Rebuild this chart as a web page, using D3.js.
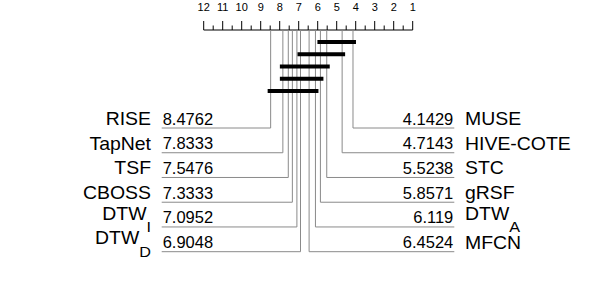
<!DOCTYPE html>
<html><head><meta charset="utf-8">
<script src="https://cdn.jsdelivr.net/npm/d3@7"></script>
<style>body{margin:0;background:#fff}svg{display:block}text{font-family:"Liberation Sans",Arial,sans-serif}</style>
</head><body><svg id="c" width="598" height="283"></svg>
<script>
const leftNames = [["RISE",""],["TapNet",""],["TSF",""],["CBOSS",""],["DTW","I"],["DTW","D"]];
const leftRanks = [8.4762, 7.8333, 7.5476, 7.3333, 7.0952, 6.9048];
const rightNames = [["MUSE",""],["HIVE-COTE",""],["STC",""],["gRSF",""],["DTW","A"],["MFCN",""]];
const rightRanks = [4.1429, 4.7143, 5.5238, 5.8571, 6.119, 6.4524];
const rightLabels = ["4.1429","4.7143","5.5238","5.8571","6.119","6.4524"];
const leftLabels = ["8.4762","7.8333","7.5476","7.3333","7.0952","6.9048"];
const tickLabels = [12,11,10,9,8,7,6,5,4,3,2,1];
const cliques = [[5.8571,4.1429],[6.9048,4.7143],[7.8333,5.5238],[7.8333,5.8571],[8.4762,6.119]];

const svg = d3.select("#c");
const x = d3.scaleLinear().domain([12,1]).range([203.7,412.7]);
const axisY = 30;
const rowY = d3.scaleLinear().domain([0,5]).range([128,251.7]);
const barY = d3.scaleLinear().domain([0,4]).range([42,91]);
const gray = "#8a8a8a";

// axis
svg.append("line").attr("x1",x(12)).attr("x2",x(1)).attr("y1",axisY).attr("y2",axisY)
  .attr("stroke","#000").attr("stroke-width",1);
const halfTicks = d3.range(12, 0.99, -0.5);
svg.selectAll(".tk").data(halfTicks).join("line")
  .attr("x1",d=>x(d)).attr("x2",d=>x(d))
  .attr("y1",d=>Number.isInteger(d)?axisY-9:axisY-4.5).attr("y2",axisY)
  .attr("stroke","#000").attr("stroke-width",1);
svg.selectAll(".tl").data(tickLabels).join("text")
  .attr("x",d=>x(d)).attr("y",10.5).attr("text-anchor","middle")
  .attr("font-size",11).text(d=>d);

// connector lines
const g = svg.append("g").attr("fill","none").attr("stroke",gray).attr("stroke-width",1);
leftRanks.forEach((r,i)=>{
  g.append("path").attr("d",`M${x(r)},${axisY}V${rowY(i)}H161.7`);
});
rightRanks.forEach((r,i)=>{
  g.append("path").attr("d",`M${x(r)},${axisY}V${rowY(i)}H454.3`);
});

// cliques
svg.selectAll(".cl").data(cliques).join("line")
  .attr("x1",d=>x(d[0])-3).attr("x2",d=>x(d[1])+3)
  .attr("y1",(d,i)=>barY(i)).attr("y2",(d,i)=>barY(i))
  .attr("stroke","#000").attr("stroke-width",4);

function name(px, ly, d, anchor){
  const base = d[1] ? ly-7.4 : ly-3;
  const t = svg.append("g").attr("transform",`translate(${px},${base}) scale(1.08,1)`)
    .append("text").attr("text-anchor",anchor).attr("font-size",18);
  t.append("tspan").text(d[0]);
  if(d[1]) t.append("tspan").attr("font-size",15).attr("dy",12.4).text(d[1]);
}
leftNames.forEach((d,i)=>{
  name(151, rowY(i), d, "end");
  svg.append("text").attr("x",162.7).attr("y",rowY(i)-3.5).attr("font-size",16.5).text(leftLabels[i]);
});
rightNames.forEach((d,i)=>{
  name(465, rowY(i), d, "start");
  svg.append("text").attr("x",453.3).attr("y",rowY(i)-3.5).attr("text-anchor","end").attr("font-size",16.5).text(rightLabels[i]);
});
</script></body></html>
